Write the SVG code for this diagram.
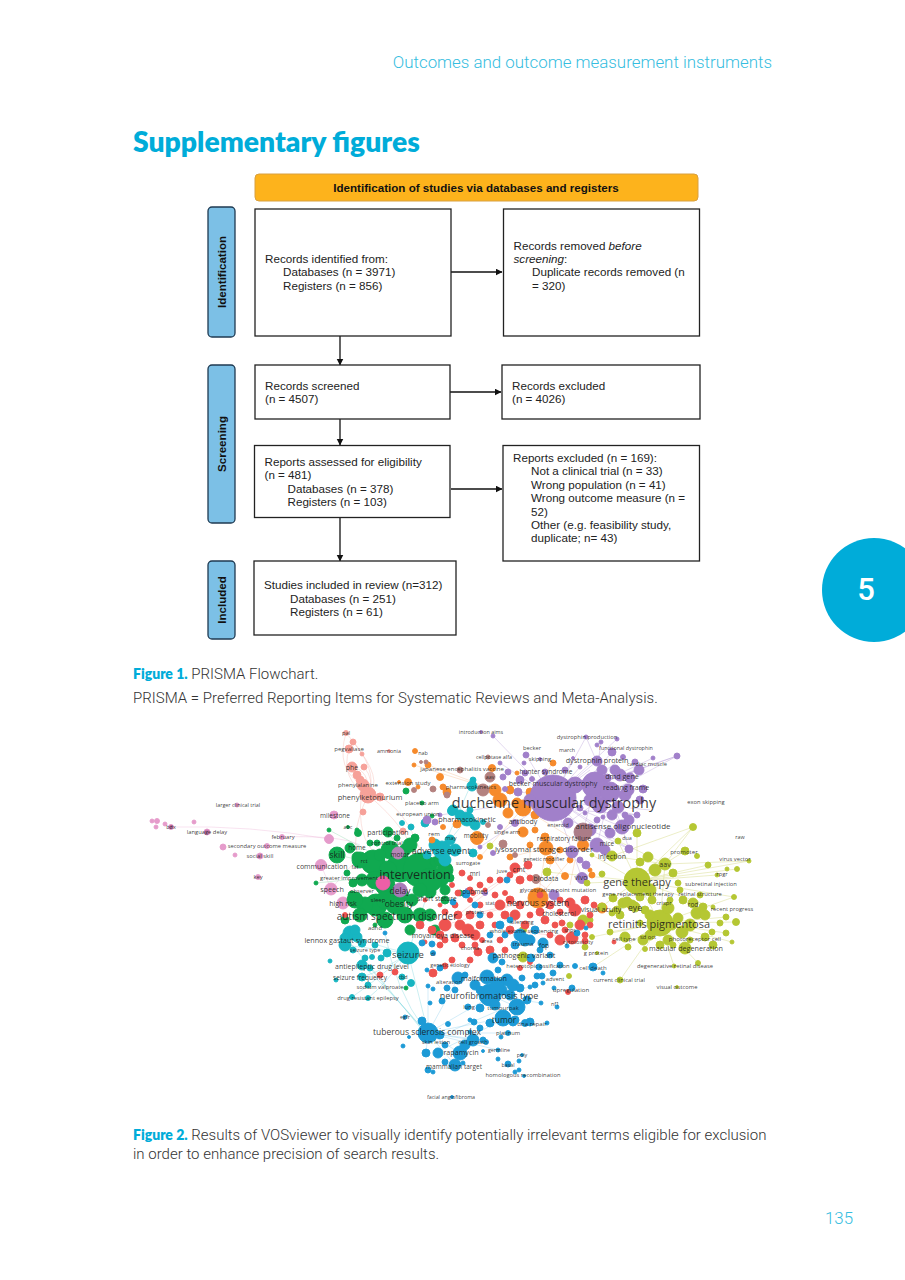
<svg xmlns="http://www.w3.org/2000/svg" width="905" height="1280" viewBox="0 0 905 1280">
<style>
text{font-family:"Liberation Sans",Arial,sans-serif}
.bx{fill:#fff;stroke:#222;stroke-width:1.3}
.sd{fill:#7cc0e6;stroke:#1f3a52;stroke-width:1.3}
.t{font-size:11.65px;fill:#222}
.b{font-size:11.6px;font-weight:700;fill:#111}
.cap{font-family:Roboto,sans-serif;font-weight:300;font-size:15px;fill:#333}
.fb{font-family:Lato,sans-serif;font-weight:800;font-size:14px;fill:#00acd9}
.hd{font-family:Roboto,sans-serif;font-weight:300;fill:#35bde0}
.cn{stroke:#111;stroke-width:1.3;fill:none;marker-end:url(#ah)}
.l text{font-family:"Open Sans",sans-serif;text-anchor:middle;fill:#151515;fill-opacity:.85;dominant-baseline:central}
.a{font-size:5.4px}.c{font-size:5.8px}.d{font-size:6.1px}.e{font-size:6.5px}.f{font-size:7px}.g{font-size:7.2px}.h{font-size:8.5px}.i{font-size:9.5px}
.ed{fill:none;stroke-width:.6;stroke-opacity:.55}
.cl{stroke-width:1;stroke-opacity:.9}
</style>
<defs><marker id="ah" markerWidth="8" markerHeight="8" refX="6.5" refY="3.5" orient="auto" markerUnits="userSpaceOnUse"><path d="M0 0L7 3.5L0 7Z" fill="#111"/></marker></defs>

<rect width="905" height="1280" fill="#fff"/>
<text class="hd" x="772" y="68" text-anchor="end" font-size="16.9">Outcomes and outcome measurement instruments</text>
<text x="133" y="152" font-size="28.3" font-weight="800" fill="#00acd9" style="font-family:Lato,'Open Sans',sans-serif">Supplementary figures</text>

<g id="connectors">
<path class="cn" d="M451 272H502"/>
<path class="cn" d="M340 336V365"/>
<path class="cn" d="M450 392H501"/>
<path class="cn" d="M340 419V445"/>
<path class="cn" d="M451 489H502"/>
<path class="cn" d="M340 518V561"/>
</g>
<g id="node-header"><rect x="255" y="174" width="443" height="27" rx="4" fill="#fdb31c" stroke="#d8a040" stroke-width="1"/><text class="b" x="476" y="192" text-anchor="middle">Identification of studies via databases and registers</text></g>
<g id="side-identification"><rect class="sd" x="208" y="207" width="27" height="130" rx="4"/><text class="b" transform="translate(226 272) rotate(-90)" text-anchor="middle">Identification</text></g>
<g id="side-screening"><rect class="sd" x="208" y="365" width="27" height="158" rx="4"/><text class="b" transform="translate(226 444) rotate(-90)" text-anchor="middle">Screening</text></g>
<g id="side-included"><rect class="sd" x="208" y="561" width="27" height="78" rx="4"/><text class="b" transform="translate(226 600) rotate(-90)" text-anchor="middle">Included</text></g>
<g id="node-identified"><rect class="bx" x="255" y="209" width="196" height="127"/><text class="t" x="265" y="263">Records identified from:</text><text class="t" x="283" y="276">Databases (n = 3971)</text><text class="t" x="283" y="290">Registers (n = 856)</text></g>
<g id="node-removed"><rect class="bx" x="503.500" y="209" width="196" height="127"/><text class="t" x="513.500" y="250">Records removed <tspan font-style="italic">before</tspan></text><text class="t" x="513.500" y="263"><tspan font-style="italic">screening</tspan>:</text><text class="t" x="532" y="276">Duplicate records removed (n</text><text class="t" x="532" y="290">= 320)</text></g>
<g id="node-screened"><rect class="bx" x="255" y="365" width="195" height="54"/><text class="t" x="265" y="390">Records screened</text><text class="t" x="265" y="403">(n = 4507)</text></g>
<g id="node-excluded"><rect class="bx" x="502" y="365" width="198" height="54"/><text class="t" x="512" y="390">Records excluded</text><text class="t" x="512" y="403">(n = 4026)</text></g>
<g id="node-assessed"><rect class="bx" x="254.500" y="445.500" width="195.500" height="72"/><text class="t" x="264.500" y="466">Reports assessed for eligibility</text><text class="t" x="264.500" y="479">(n = 481)</text><text class="t" x="287.500" y="493">Databases (n = 378)</text><text class="t" x="287.500" y="506">Registers (n = 103)</text></g>
<g id="node-reports-excluded"><rect class="bx" x="503" y="445.500" width="196.500" height="115.500"/><text class="t" x="513" y="462">Reports excluded (n = 169):</text><text class="t" x="531" y="475">Not a clinical trial (n = 33)</text><text class="t" x="531" y="489">Wrong population (n = 41)</text><text class="t" x="531" y="502">Wrong outcome measure (n =</text><text class="t" x="531" y="516">52)</text><text class="t" x="531" y="529">Other (e.g. feasibility study,</text><text class="t" x="531" y="542">duplicate; n= 43)</text></g>
<g id="node-included"><rect class="bx" x="254" y="561" width="202" height="74"/><text class="t" x="264" y="589">Studies included in review (n=312)</text><text class="t" x="290" y="603">Databases (n = 251)</text><text class="t" x="290" y="616">Registers (n = 61)</text></g>

<g id="badge"><circle cx="874" cy="590" r="52" fill="#00acd9"/><text x="866" y="600" text-anchor="middle" font-size="31" font-weight="500" fill="#fff" style="font-family:Roboto,sans-serif">5</text></g>

<text x="133" y="679"><tspan class="fb">Figure 1.</tspan><tspan class="cap"> PRISMA Flowchart.</tspan></text>
<text class="cap" x="133" y="703">PRISMA = Preferred Reporting Items for Systematic Reviews and Meta-Analysis.</text>

<g id="network-edges">
<path class="ed" stroke="#a98bd0" d="M553 798L677 756M553 798L639 770M553 798L617 739M553 798L586 737M553 798L526 755M553 798L597 761M553 798L629 849M553 798L597 845M553 798L622 827M553 798L637 815M553 798L568 823M553 798L610 833M553 798L505 789M553 798L493 736M595 785L677 756M595 785L601 742M595 785L653 758M595 785L639 770M595 785L622 827M595 785L583 832M610 792L629 820M610 792L629 849M610 792L597 845M610 792L677 756M610 792L586 737M610 792L568 823M553 798L580 767M553 798L573 758M553 798L500 763M553 798L440 815M553 798L582 878M553 798L480 847M600 805L650 810M575 810L637 815M560 815L629 849M590 770L553 798M570 800L612 752M580 790L623 757"/>
<path class="ed" stroke="#c4cc52" d="M637 881L693 827M637 881L637 833M637 881L618 841M637 881L592 855M637 881L749 861M637 881L737 869M637 881L708 865M637 881L717 875M637 881L713 907M637 881L685 851M637 881L734 897M637 881L587 883M637 881L547 872M637 881L665 864M660 923L734 897M660 923L736 922M660 923L726 933M660 923L732 942M660 923L698 963M660 923L674 966M660 923L610 932M660 923L645 949M660 923L726 917M660 923L592 937M665 864L693 827M665 864L749 861M665 864L618 841M637 881L583 920M665 864L612 856M660 923L620 980M660 923L593 967M665 864L660 923M637 881L660 923M612 856L693 827"/>
<path class="ed" stroke="#7cc9ea" d="M428 1033L490 997M428 1033L422 1021M428 1033L473 1040M428 1033L460 1053M428 1033L455 1065M428 1033L426 1053M428 1033L483 1040M428 1033L503 1018M428 1033L508 1033M428 1033L498 1050M428 1033L458 978M428 1033L428 986M490 995L517 1007M490 995L503 1018M490 995L530 987M490 995L541 1003M430 1040L500 1010M435 1053L503 1020M460 1053L480 1028"/>
<path class="ed" stroke="#62cdd6" stroke-width=".7" d="M408 953Q420 1000 428 1033M385 933Q395 990 425 1030M362 965Q400 1000 425 1032M352 945Q390 990 422 1030M370 968Q405 1010 424 1030M350 933Q370 945 408 953M345 945Q380 950 408 953M362 977Q385 970 408 953M352 997Q370 985 408 953M368 998Q385 985 408 953M442 850L467 819M442 850L473 780M442 850L408 953"/>
<path class="ed" stroke="#f4a8a0" stroke-width=".7" d="M346 733Q380 770 368 795M353 742Q385 780 368 795M349 749Q340 780 368 795M352 767Q370 770 368 795M364 767Q375 780 368 795M368 795Q350 830 358 858M368 795Q410 830 415 860M363 785Q355 830 372 850M380 797Q405 810 420 850M346 733Q335 770 363 785"/>
<path class="ed" stroke="#e9a9d2" stroke-width=".7" d="M329 839Q250 825 171 827M282 837Q340 835 360 845M343 903L383 883M321 865L331 889M331 889L358 858"/>
<path class="ed" stroke="#f7b27a" d="M523 808L553 763M523 808L480 857M546 848L510 857M523 808L583 845M495 790L428 765M495 790L414 765M546 848L538 898M546 848L565 876M583 845L538 898M560 850L545 875M575 860L570 885M530 840L530 870"/>
<path class="ed" stroke="#f29a98" d="M519 868L470 900M519 868L575 910M519 868L445 925M538 898L470 915M538 898L445 925M538 898L585 941M572 938L510 930"/>
<path class="ed" stroke="#7fce9c" d="M415 873L338 855M415 873L316 883M415 873L388 832M400 868L329 830M415 873L442 900"/>
</g>

<g id="cluster-salmon" class="cl" fill="#f6a199" stroke="#f6a199">
<circle cx="346" cy="733" r="2.500"/><circle cx="353" cy="742" r="3"/><circle cx="349" cy="749" r="4"/><circle cx="362" cy="754" r="2"/><circle cx="352" cy="767" r="5"/><circle cx="364" cy="767" r="3"/><circle cx="357" cy="775" r="4"/><circle cx="360" cy="780" r="4"/><circle cx="363" cy="785" r="6"/><circle cx="368" cy="795" r="8"/><circle cx="380" cy="797" r="4"/><circle cx="363" cy="812" r="3"/><circle cx="403" cy="831" r="3"/><circle cx="389" cy="751" r="1.500"/>
</g>
<g id="cluster-pink" class="cl" fill="#e59bcb" stroke="#e59bcb">
<circle cx="152" cy="821" r="2"/><circle cx="157" cy="821" r="2.500"/><circle cx="156" cy="827" r="2"/><circle cx="165" cy="824" r="2"/><circle cx="171" cy="827" r="2.500" fill="#b9689f"/><circle cx="194" cy="822" r="2"/><circle cx="207" cy="832" r="3" fill="#c97ab0"/><circle cx="237" cy="805" r="2"/><circle cx="223" cy="847" r="3"/><circle cx="235" cy="855" r="2"/><circle cx="260" cy="856" r="3" fill="#d488bd"/><circle cx="267" cy="846" r="2.500"/><circle cx="282" cy="837" r="2.500"/><circle cx="258" cy="877" r="2.500"/><circle cx="329" cy="839" r="4.500"/><circle cx="334" cy="815" r="4"/><circle cx="321" cy="865" r="5.500"/><circle cx="331" cy="889" r="6"/><circle cx="343" cy="903" r="6"/>
</g>
<g id="cluster-green" class="cl" fill="#10a950" stroke="#10a950">
<circle cx="337" cy="855" r="8"/><circle cx="350" cy="848" r="5"/><circle cx="357" cy="830" r="2"/><circle cx="358" cy="833" r="3.500"/><circle cx="388" cy="832" r="5"/><circle cx="415" cy="838" r="4"/><circle cx="357" cy="857" r="5"/><circle cx="347" cy="873" r="3"/><circle cx="353" cy="883" r="4"/><circle cx="316" cy="883" r="2"/><circle cx="406" cy="791" r="3"/><circle cx="422" cy="803" r="2"/><circle cx="329" cy="830" r="2"/><circle cx="348" cy="827" r="1.500"/><circle cx="432" cy="816" r="2"/><circle cx="377" cy="843" r="3"/><circle cx="370" cy="843" r="3"/><circle cx="397" cy="838" r="3"/><circle cx="373" cy="862" r="12"/><circle cx="390" cy="850" r="9"/><circle cx="400" cy="868" r="14"/><circle cx="385" cy="885" r="10"/><circle cx="362" cy="880" r="6"/><circle cx="400" cy="895" r="8"/><circle cx="376" cy="905" r="11"/><circle cx="395" cy="905" r="9"/><circle cx="412" cy="900" r="6"/><circle cx="365" cy="905" r="8"/><circle cx="352" cy="895" r="4"/><circle cx="420" cy="915" r="7"/><circle cx="405" cy="915" r="8"/><circle cx="385" cy="920" r="8"/><circle cx="360" cy="915" r="7"/><circle cx="345" cy="920" r="4"/><circle cx="430" cy="892" r="6"/><circle cx="445" cy="900" r="4"/><circle cx="460" cy="893" r="3"/><circle cx="430" cy="915" r="6"/><circle cx="435" cy="930" r="5"/><circle cx="410" cy="930" r="5"/><circle cx="375" cy="925" r="2"/><circle cx="440" cy="878" r="9"/><circle cx="420" cy="870" r="17"/><circle cx="435" cy="862" r="5"/><circle cx="388" cy="870" r="9"/><circle cx="450" cy="878" r="4"/><circle cx="405" cy="850" r="6"/><circle cx="380" cy="855" r="6"/><circle cx="406" cy="988" r="2"/><circle cx="430" cy="880" r="12"/><circle cx="445" cy="870" r="8"/><circle cx="360" cy="860" r="8"/><circle cx="410" cy="845" r="7"/><circle cx="375" cy="880" r="9"/><circle cx="420" cy="890" r="7"/><circle cx="355" cy="900" r="8"/><circle cx="385" cy="900" r="9"/><circle cx="445" cy="890" r="5"/><circle cx="440" cy="860" r="6"/>
</g>
<g id="cluster-teal" class="cl" fill="#17b5c1" stroke="#17b5c1">
<circle cx="442" cy="850" r="9"/><circle cx="467" cy="819" r="7"/><circle cx="453" cy="810" r="5"/><circle cx="427" cy="855" r="4"/><circle cx="473" cy="853" r="4"/><circle cx="411" cy="827" r="3"/><circle cx="402" cy="823" r="2.500"/><circle cx="425" cy="823" r="4"/><circle cx="483" cy="822" r="2.500"/><circle cx="473" cy="780" r="3"/><circle cx="472" cy="786" r="5"/><circle cx="452" cy="811" r="4.500"/><circle cx="455" cy="850" r="6"/><circle cx="408" cy="953" r="11"/><circle cx="350" cy="933" r="7"/><circle cx="345" cy="945" r="6"/><circle cx="357" cy="937" r="5"/><circle cx="362" cy="943" r="4"/><circle cx="387" cy="953" r="4"/><circle cx="362" cy="965" r="5"/><circle cx="370" cy="968" r="3"/><circle cx="362" cy="977" r="4"/><circle cx="368" cy="985" r="3"/><circle cx="381" cy="958" r="3"/><circle cx="372" cy="957" r="2.500"/><circle cx="411" cy="983" r="3.500"/><circle cx="402" cy="977" r="3"/><circle cx="352" cy="997" r="2.500"/><circle cx="368" cy="998" r="2.500"/><circle cx="330" cy="961" r="2"/><circle cx="336" cy="980" r="2"/><circle cx="353" cy="950" r="3"/><circle cx="435" cy="845" r="6"/><circle cx="450" cy="840" r="5"/><circle cx="445" cy="860" r="6"/><circle cx="460" cy="815" r="5"/><circle cx="470" cy="810" r="3"/><circle cx="475" cy="825" r="5"/><circle cx="345" cy="938" r="5"/><circle cx="355" cy="930" r="5"/><circle cx="375" cy="945" r="3"/><circle cx="365" cy="958" r="3"/>
</g>
<g id="cluster-orange" class="cl" fill="#f68a2b" stroke="#f68a2b">
<circle cx="495" cy="790" r="6"/><circle cx="508" cy="813" r="5"/><circle cx="523" cy="808" r="8"/><circle cx="523" cy="832" r="5"/><circle cx="517" cy="803" r="5"/><circle cx="546" cy="848" r="7"/><circle cx="583" cy="845" r="5.500"/><circle cx="545" cy="837" r="4"/><circle cx="457" cy="824" r="4"/><circle cx="477" cy="838" r="6.500"/><circle cx="492" cy="768" r="3.500"/><circle cx="553" cy="763" r="3"/><circle cx="517" cy="773" r="2"/><circle cx="597" cy="777" r="3"/><circle cx="538" cy="898" r="10"/><circle cx="565" cy="876" r="3.500"/><circle cx="592" cy="875" r="3"/><circle cx="602" cy="908" r="5"/><circle cx="443" cy="827" r="2.500"/><circle cx="415" cy="751" r="2.500"/><circle cx="428" cy="765" r="3"/><circle cx="414" cy="765" r="2"/><circle cx="408" cy="782" r="3.500"/><circle cx="440" cy="777" r="3.500"/><circle cx="443" cy="787" r="3"/><circle cx="447" cy="792" r="4"/><circle cx="432" cy="840" r="3"/><circle cx="399" cy="782" r="1.500"/><circle cx="418" cy="787" r="2"/><circle cx="510" cy="857" r="3"/><circle cx="480" cy="857" r="2.500"/><circle cx="530" cy="792" r="4"/><circle cx="535" cy="815" r="4"/><circle cx="500" cy="800" r="7"/><circle cx="510" cy="790" r="4"/><circle cx="535" cy="830" r="3"/><circle cx="560" cy="850" r="3"/><circle cx="570" cy="860" r="3"/><circle cx="550" cy="860" r="4"/><circle cx="530" cy="845" r="3"/><circle cx="590" cy="870" r="2"/>
</g>
<g id="cluster-brown" class="cl" fill="#b4827f" stroke="#b4827f">
<circle cx="483" cy="790" r="6"/><circle cx="460" cy="770" r="3"/><circle cx="490" cy="777" r="5"/><circle cx="536" cy="879" r="4.500"/><circle cx="503" cy="844" r="4"/><circle cx="515" cy="855" r="2.500"/><circle cx="421" cy="762" r="1.500"/><circle cx="426" cy="762" r="2"/><circle cx="414" cy="790" r="2.500"/><circle cx="433" cy="789" r="3"/><circle cx="447" cy="795" r="3"/><circle cx="488" cy="757" r="2"/><circle cx="488" cy="825" r="2.500"/>
</g>
<g id="cluster-purple" class="cl" fill="#a180ca" stroke="#a180ca">
<circle cx="553" cy="798" r="23"/><circle cx="595" cy="785" r="13"/><circle cx="610" cy="792" r="10"/><circle cx="618" cy="807" r="6"/><circle cx="572" cy="852" r="6"/><circle cx="597" cy="845" r="7"/><circle cx="610" cy="833" r="5"/><circle cx="622" cy="827" r="7"/><circle cx="629" cy="820" r="5"/><circle cx="629" cy="849" r="4"/><circle cx="637" cy="815" r="3"/><circle cx="639" cy="770" r="5"/><circle cx="635" cy="762" r="3"/><circle cx="623" cy="757" r="2.500"/><circle cx="612" cy="752" r="4"/><circle cx="617" cy="739" r="2"/><circle cx="601" cy="742" r="2"/><circle cx="597" cy="745" r="2"/><circle cx="586" cy="737" r="2"/><circle cx="493" cy="736" r="2"/><circle cx="481" cy="732" r="1.500"/><circle cx="526" cy="755" r="3"/><circle cx="524" cy="763" r="2"/><circle cx="540" cy="759" r="1.500"/><circle cx="597" cy="761" r="5"/><circle cx="580" cy="767" r="2"/><circle cx="573" cy="758" r="1.500"/><circle cx="653" cy="758" r="2"/><circle cx="677" cy="756" r="3"/><circle cx="508" cy="772" r="3"/><circle cx="503" cy="777" r="3"/><circle cx="500" cy="763" r="2"/><circle cx="518" cy="792" r="4"/><circle cx="505" cy="789" r="2.500"/><circle cx="525" cy="773" r="3"/><circle cx="532" cy="779" r="2.500"/><circle cx="587" cy="783" r="5"/><circle cx="643" cy="789" r="4"/><circle cx="630" cy="778" r="5"/><circle cx="607" cy="778" r="4"/><circle cx="597" cy="820" r="3"/><circle cx="625" cy="815" r="3"/><circle cx="568" cy="823" r="5"/><circle cx="603" cy="817" r="2"/><circle cx="580" cy="808" r="3"/><circle cx="585" cy="813" r="2"/><circle cx="515" cy="823" r="3.500"/><circle cx="500" cy="827" r="2.500"/><circle cx="586" cy="865" r="4"/><circle cx="582" cy="878" r="5.500"/><circle cx="554" cy="895" r="5"/><circle cx="493" cy="853" r="2.500"/><circle cx="480" cy="847" r="2"/><circle cx="427" cy="820" r="4"/><circle cx="435" cy="822" r="3"/><circle cx="440" cy="815" r="2"/><circle cx="400" cy="890" r="7" fill="#a97ab8" stroke="#a97ab8"/><circle cx="398" cy="853" r="6" fill="#b686b8" stroke="#b686b8"/><circle cx="468" cy="891" r="3"/><circle cx="485" cy="893" r="2.500"/><circle cx="620" cy="775" r="6"/><circle cx="602" cy="770" r="5"/><circle cx="590" cy="800" r="6"/><circle cx="600" cy="805" r="8"/><circle cx="575" cy="785" r="8"/><circle cx="625" cy="795" r="6"/><circle cx="640" cy="800" r="4"/><circle cx="612" cy="815" r="5"/><circle cx="590" cy="830" r="6"/><circle cx="605" cy="850" r="5"/><circle cx="580" cy="860" r="3"/><circle cx="530" cy="800" r="6"/><circle cx="520" cy="780" r="4"/><circle cx="545" cy="772" r="3"/><circle cx="565" cy="770" r="3"/><circle cx="628" cy="790" r="6"/><circle cx="615" cy="770" r="5"/><circle cx="583" cy="832" r="9" fill="#ab7c87" stroke="#ab7c87"/>
</g>
<g id="cluster-lime" class="cl" fill="#b5c733" stroke="#b5c733">
<circle cx="637" cy="881" r="13"/><circle cx="660" cy="923" r="13"/><circle cx="665" cy="864" r="6"/><circle cx="673" cy="873" r="4"/><circle cx="648" cy="857" r="5"/><circle cx="640" cy="862" r="4"/><circle cx="685" cy="851" r="4"/><circle cx="697" cy="856" r="2.500"/><circle cx="708" cy="865" r="3"/><circle cx="693" cy="827" r="3.500"/><circle cx="637" cy="833" r="4"/><circle cx="618" cy="841" r="3"/><circle cx="612" cy="856" r="5"/><circle cx="602" cy="874" r="3"/><circle cx="592" cy="855" r="2"/><circle cx="749" cy="861" r="2"/><circle cx="737" cy="869" r="2.500"/><circle cx="727" cy="869" r="2"/><circle cx="678" cy="883" r="3"/><circle cx="680" cy="890" r="3"/><circle cx="717" cy="875" r="2"/><circle cx="713" cy="907" r="2"/><circle cx="640" cy="897" r="4"/><circle cx="623" cy="903" r="5"/><circle cx="632" cy="905" r="5"/><circle cx="613" cy="898" r="4"/><circle cx="587" cy="883" r="3"/><circle cx="547" cy="872" r="4"/><circle cx="490" cy="846" r="3"/><circle cx="734" cy="897" r="2.500"/><circle cx="726" cy="917" r="3"/><circle cx="736" cy="922" r="3.500"/><circle cx="726" cy="933" r="3"/><circle cx="732" cy="942" r="2"/><circle cx="712" cy="932" r="3"/><circle cx="720" cy="923" r="3"/><circle cx="713" cy="945" r="4"/><circle cx="705" cy="937" r="4"/><circle cx="685" cy="948" r="6"/><circle cx="673" cy="945" r="3"/><circle cx="660" cy="945" r="4"/><circle cx="645" cy="949" r="2.500"/><circle cx="643" cy="940" r="5"/><circle cx="628" cy="947" r="3"/><circle cx="625" cy="937" r="5"/><circle cx="610" cy="932" r="3"/><circle cx="612" cy="913" r="3"/><circle cx="617" cy="910" r="4"/><circle cx="627" cy="902" r="5"/><circle cx="635" cy="907" r="5"/><circle cx="645" cy="910" r="4"/><circle cx="652" cy="900" r="4"/><circle cx="670" cy="900" r="3"/><circle cx="683" cy="900" r="4"/><circle cx="693" cy="903" r="5"/><circle cx="697" cy="913" r="6"/><circle cx="705" cy="915" r="5"/><circle cx="703" cy="907" r="4"/><circle cx="682" cy="932" r="6"/><circle cx="678" cy="918" r="5"/><circle cx="640" cy="923" r="3"/><circle cx="592" cy="937" r="2.500"/><circle cx="583" cy="920" r="5"/><circle cx="590" cy="920" r="3"/><circle cx="602" cy="907" r="4"/><circle cx="569" cy="976" r="2.500"/><circle cx="698" cy="963" r="2.500"/><circle cx="674" cy="966" r="2"/><circle cx="620" cy="980" r="3"/><circle cx="677" cy="987" r="1.500"/><circle cx="597" cy="953" r="1.500"/><circle cx="585" cy="947" r="3"/><circle cx="523" cy="957" r="5"/><circle cx="523" cy="930" r="3.500"/><circle cx="570" cy="925" r="3"/><circle cx="650" cy="915" r="5"/><circle cx="668" cy="908" r="6"/><circle cx="650" cy="935" r="5"/><circle cx="668" cy="940" r="5"/><circle cx="690" cy="925" r="6"/><circle cx="672" cy="925" r="5"/><circle cx="655" cy="870" r="6"/><circle cx="650" cy="890" r="6"/><circle cx="620" cy="915" r="4"/><circle cx="700" cy="895" r="3"/><circle cx="690" cy="940" r="3"/>
</g>
<g id="cluster-red" class="cl" fill="#ee5350" stroke="#ee5350">
<circle cx="515" cy="868" r="5"/><circle cx="528" cy="865" r="4"/><circle cx="510" cy="875" r="3"/><circle cx="500" cy="880" r="3"/><circle cx="520" cy="880" r="4"/><circle cx="530" cy="878" r="3"/><circle cx="505" cy="893" r="2.500"/><circle cx="490" cy="880" r="3"/><circle cx="480" cy="885" r="3"/><circle cx="470" cy="878" r="2.500"/><circle cx="462" cy="873" r="3"/><circle cx="452" cy="885" r="2.500"/><circle cx="458" cy="893" r="3"/><circle cx="470" cy="900" r="2.500"/><circle cx="455" cy="905" r="3"/><circle cx="445" cy="912" r="3"/><circle cx="480" cy="905" r="3"/><circle cx="490" cy="915" r="3"/><circle cx="470" cy="915" r="4"/><circle cx="460" cy="925" r="5"/><circle cx="445" cy="925" r="6"/><circle cx="432" cy="930" r="4"/><circle cx="420" cy="925" r="4"/><circle cx="455" cy="938" r="4"/><circle cx="468" cy="930" r="6"/><circle cx="480" cy="925" r="4"/><circle cx="495" cy="925" r="3"/><circle cx="500" cy="905" r="5"/><circle cx="510" cy="900" r="4"/><circle cx="520" cy="905" r="4"/><circle cx="530" cy="915" r="3"/><circle cx="540" cy="912" r="4"/><circle cx="550" cy="905" r="4"/><circle cx="560" cy="900" r="3"/><circle cx="570" cy="903" r="5"/><circle cx="575" cy="910" r="6"/><circle cx="585" cy="900" r="4"/><circle cx="590" cy="915" r="3"/><circle cx="590" cy="925" r="3"/><circle cx="555" cy="925" r="3"/><circle cx="545" cy="920" r="4"/><circle cx="550" cy="935" r="3"/><circle cx="560" cy="940" r="5"/><circle cx="572" cy="938" r="6"/><circle cx="565" cy="930" r="3"/><circle cx="510" cy="930" r="4"/><circle cx="500" cy="940" r="3"/><circle cx="490" cy="950" r="4"/><circle cx="478" cy="952" r="4"/><circle cx="470" cy="960" r="3"/><circle cx="452" cy="960" r="3"/><circle cx="445" cy="966" r="3"/><circle cx="433" cy="973" r="4"/><circle cx="395" cy="972" r="3"/><circle cx="380" cy="975" r="3"/><circle cx="505" cy="950" r="3"/><circle cx="515" cy="945" r="3"/><circle cx="530" cy="962" r="2.500"/><circle cx="520" cy="968" r="2.500"/><circle cx="585" cy="941" r="3"/><circle cx="594" cy="905" r="3"/><circle cx="473" cy="893" r="2.500"/><circle cx="440" cy="905" r="2"/><circle cx="462" cy="945" r="3"/><circle cx="482" cy="940" r="2.500"/><circle cx="440" cy="945" r="3"/><circle cx="425" cy="942" r="2"/><circle cx="568" cy="992" r="2.500"/><circle cx="614" cy="942" r="2"/><circle cx="562" cy="923" r="3"/><circle cx="345" cy="915" r="2.500"/><circle cx="383" cy="883" r="7" fill="#ee5fa7" stroke="#ee5fa7"/><circle cx="425" cy="900" r="2"/><circle cx="470" cy="890" r="3"/><circle cx="495" cy="895" r="3"/><circle cx="515" cy="915" r="5"/><circle cx="525" cy="925" r="4"/><circle cx="475" cy="935" r="5"/><circle cx="445" cy="940" r="3"/><circle cx="505" cy="915" r="4"/><circle cx="580" cy="925" r="5"/><circle cx="585" cy="935" r="3"/><circle cx="540" cy="895" r="3"/><circle cx="485" cy="890" r="2"/><circle cx="475" cy="945" r="3"/><circle cx="458" cy="915" r="4"/><circle cx="440" cy="935" r="4"/><circle cx="560" cy="912" r="3"/>
</g>
<g id="cluster-blue" class="cl" fill="#1d9ad6" stroke="#1d9ad6">
<circle cx="507" cy="880" r="3"/><circle cx="466" cy="894" r="4"/><circle cx="475" cy="905" r="3"/><circle cx="453" cy="902" r="3"/><circle cx="500" cy="925" r="4"/><circle cx="520" cy="935" r="6"/><circle cx="535" cy="930" r="4"/><circle cx="530" cy="940" r="5"/><circle cx="515" cy="945" r="4"/><circle cx="493" cy="958" r="5"/><circle cx="502" cy="962" r="3"/><circle cx="531" cy="958" r="4"/><circle cx="543" cy="943" r="5"/><circle cx="525" cy="940" r="6"/><circle cx="539" cy="967" r="3"/><circle cx="560" cy="965" r="3"/><circle cx="575" cy="966" r="2.500"/><circle cx="593" cy="967" r="4"/><circle cx="603" cy="973" r="2"/><circle cx="567" cy="946" r="2"/><circle cx="586" cy="928" r="2"/><circle cx="577" cy="933" r="3"/><circle cx="490" cy="995" r="11"/><circle cx="487" cy="977" r="7"/><circle cx="507" cy="980" r="6"/><circle cx="513" cy="985" r="6"/><circle cx="520" cy="988" r="4"/><circle cx="502" cy="990" r="5"/><circle cx="517" cy="1007" r="8"/><circle cx="503" cy="1018" r="8"/><circle cx="513" cy="1022" r="4"/><circle cx="530" cy="1022" r="4"/><circle cx="525" cy="1023" r="3.500"/><circle cx="489" cy="1023" r="3"/><circle cx="480" cy="1028" r="3"/><circle cx="501" cy="1037" r="2"/><circle cx="486" cy="1042" r="2.500"/><circle cx="483" cy="1051" r="1.500"/><circle cx="498" cy="1050" r="2"/><circle cx="498" cy="1059" r="2"/><circle cx="508" cy="1064" r="3"/><circle cx="519" cy="1061" r="2"/><circle cx="515" cy="1072" r="2"/><circle cx="519" cy="1070" r="2"/><circle cx="524" cy="1076" r="1.500"/><circle cx="522" cy="1055" r="1.500"/><circle cx="547" cy="1023" r="2"/><circle cx="541" cy="1003" r="2"/><circle cx="530" cy="987" r="2"/><circle cx="522" cy="978" r="3"/><circle cx="498" cy="970" r="3"/><circle cx="542" cy="976" r="3"/><circle cx="537" cy="976" r="3"/><circle cx="553" cy="973" r="3"/><circle cx="554" cy="988" r="2"/><circle cx="543" cy="983" r="2"/><circle cx="557" cy="1007" r="2"/><circle cx="572" cy="988" r="3"/><circle cx="428" cy="1033" r="10"/><circle cx="422" cy="1021" r="4"/><circle cx="409" cy="1037" r="1.500"/><circle cx="403" cy="1046" r="2"/><circle cx="426" cy="1053" r="4"/><circle cx="438" cy="1053" r="5"/><circle cx="460" cy="1053" r="7"/><circle cx="455" cy="1065" r="6"/><circle cx="428" cy="1070" r="3"/><circle cx="433" cy="1072" r="2"/><circle cx="473" cy="1040" r="6"/><circle cx="483" cy="1040" r="3"/><circle cx="448" cy="1024" r="2.500"/><circle cx="474" cy="1022" r="3"/><circle cx="490" cy="1023" r="4"/><circle cx="508" cy="1033" r="2.500"/><circle cx="452" cy="1097" r="1.500"/><circle cx="405" cy="1017" r="2"/><circle cx="430" cy="1003" r="2"/><circle cx="442" cy="1001" r="3"/><circle cx="433" cy="989" r="2"/><circle cx="428" cy="986" r="2"/><circle cx="458" cy="978" r="6"/><circle cx="447" cy="988" r="3"/><circle cx="468" cy="1007" r="3"/><circle cx="427" cy="970" r="2"/><circle cx="432" cy="944" r="3"/><circle cx="422" cy="943" r="3"/><circle cx="385" cy="933" r="2"/><circle cx="433" cy="953" r="2.500"/><circle cx="463" cy="1063" r="2"/><circle cx="475" cy="985" r="5"/><circle cx="465" cy="975" r="3"/><circle cx="480" cy="1008" r="4"/><circle cx="470" cy="1020" r="2"/><circle cx="497" cy="985" r="7"/><circle cx="480" cy="990" r="4"/><circle cx="510" cy="995" r="5"/><circle cx="527" cy="1000" r="4"/><circle cx="515" cy="1020" r="4"/><circle cx="540" cy="950" r="3"/><circle cx="550" cy="955" r="3"/><circle cx="505" cy="935" r="3"/><circle cx="490" cy="935" r="3"/><circle cx="480" cy="915" r="3"/><circle cx="510" cy="920" r="3"/><circle cx="440" cy="968" r="3"/><circle cx="455" cy="990" r="3"/><circle cx="465" cy="1045" r="5"/><circle cx="445" cy="1045" r="3"/><circle cx="440" cy="1035" r="4"/><circle cx="445" cy="1062" r="3"/><circle cx="470" cy="1032" r="2"/><circle cx="495" cy="1005" r="5"/><circle cx="535" cy="985" r="3"/>
</g>

<g id="network-labels" class="l">
<text class="c" x="346" y="733">pal</text><text class="d" x="349" y="748">pegvaliase</text><text class="a" x="389" y="751">ammonia</text><text class="a" x="423" y="753">nab</text><text class="a" x="481" y="732">introduction aims</text><text class="c" x="587" y="737">dystrophin production</text><text class="c" x="532" y="748">becker</text><text class="a" x="567" y="750">march</text><text class="a" x="626" y="748">functional dystrophin</text><text class="a" x="494" y="757">cellpotase alfa</text><text class="c" x="540" y="759">skipping</text><text class="g" x="597" y="760">dystrophin protein</text><text class="c" x="647" y="764">cardiac muscle</text><text class="d" x="462" y="768">japanese encephalitis vaccine</text><text class="f" x="352" y="767">phe</text><text class="e" x="546" y="771">hunter syndrome</text><text class="g" x="622" y="776">dmd gene</text><text class="a" x="490" y="777">aav</text><text class="d" x="358" y="784">phenylalanine</text><text class="d" x="408" y="782">extension study</text><text class="d" x="471" y="786">pharmacokinetics</text><text class="f" x="553" y="783">becker muscular dystrophy</text><text class="f" x="626" y="787">reading frame</text><text x="370" y="797" style="font-size:7.500px">phenylketonurium</text>
<text x="554" y="802" style="font-size:14.400px">duchenne muscular dystrophy</text>
<text class="c" x="706" y="802">exon skipping</text><text class="c" x="422" y="803">placebo arm</text><text class="a" x="238" y="805">larger clinical trial</text><text class="c" x="418" y="814">european union</text><text class="e" x="335" y="815">milestone</text><text x="467" y="819" style="font-size:7.400px">pharmacokinetic</text><text class="f" x="523" y="821">antibody</text><text class="a" x="558" y="825">enteroid</text><text x="623" y="825" style="font-size:8px">antisense oligonucleotide</text><text class="a" x="348" y="827">abc</text><text class="a" x="171" y="827">bdx</text><text class="c" x="207" y="832">language delay</text><text class="f" x="388" y="832">participation</text><text class="d" x="434" y="833">rem</text><text class="e" x="476" y="835">mobility</text><text class="a" x="507" y="832">single arm</text><text class="e" x="564" y="838">respiratory failure</text><text class="c" x="283" y="837">february</text><text class="a" x="740" y="837">raw</text><text class="a" x="627" y="838">dua</text><text class="c" x="387" y="843">control trial</text><text class="c" x="451" y="838">may</text><text class="c" x="267" y="846">secondary outcome measure</text><text class="e" x="357" y="847">home</text><text class="e" x="400" y="854">motor</text><text x="441" y="850" style="font-size:9px">adverse event</text><text x="544" y="849" style="font-size:7.800px">lysosomal storage disorder</text><text class="e" x="607" y="843">mice</text><text class="h" x="337" y="854">skill</text><text class="c" x="260" y="856">social skill</text><text class="f" x="612" y="856">injection</text><text class="d" x="684" y="851">promoter</text><text class="a" x="544" y="859">genetic modifier</text><text class="c" x="735" y="859">virus vector</text><text class="f" x="322" y="866">communication</text><text class="c" x="364" y="861">rct</text><text class="a" x="468" y="863">surrogate</text><text class="e" x="475" y="873">mri</text><text class="f" x="519" y="869">cmt</text><text class="f" x="665" y="864">aav</text><text class="c" x="355" y="867">fat</text><text class="a" x="502" y="871">juve</text><text class="f" x="546" y="878">biodata</text><text class="f" x="581" y="877">vivo</text><text class="c" x="258" y="877">key</text><text class="c" x="349" y="878">greater improvement</text>
<text x="415" y="874" style="font-size:12.600px">intervention</text>
<text x="637" y="881" style="font-size:11px">gene therapy</text>
<text class="c" x="722" y="874">rpgr</text><text class="c" x="711" y="884">subretinal injection</text><text class="g" x="332" y="889">speech</text><text class="h" x="400" y="890">delay</text><text class="c" x="362" y="891">observer</text><text class="e" x="475" y="891">pubmed</text><text class="c" x="537" y="890">glycosylation</text><text class="c" x="576" y="890">point mutation</text><text class="e" x="437" y="898">short stature</text><text class="d" x="378" y="899">sleep</text><text class="h" x="399" y="903">obesity</text><text class="f" x="343" y="903">high risk</text><text class="c" x="638" y="894">gene replacement therapy</text><text class="c" x="700" y="894">retinal structure</text><text class="c" x="664" y="903">crispr</text><text class="e" x="693" y="904">rod</text><text class="h" x="635" y="907">eye</text><text class="g" x="601" y="909">visual acuity</text><text class="h" x="538" y="902">nervous system</text><text class="a" x="490" y="903">stat</text><text class="a" x="475" y="912">protein</text><text class="e" x="559" y="913">cholesterol</text><text class="c" x="732" y="909">recent progress</text>
<text x="397" y="916" style="font-size:10px">autism spectrum disorder</text>
<text class="c" x="522" y="922">silencing</text><text class="c" x="375" y="928">adhd</text>
<text x="659" y="923" style="font-size:11px">retinitis pigmentosa</text>
<text class="c" x="578" y="942">cytotoxicity</text><text class="c" x="524" y="931">whole exome sequencing</text><text class="a" x="570" y="930">snps</text><text class="d" x="624" y="938">cell type</text><text class="c" x="648" y="937">sd oct</text><text class="d" x="695" y="938">photoreceptor cell</text><text class="g" x="347" y="940">lennox gastaut syndrome</text><text class="f" x="443" y="935">moyamoya disease</text><text class="a" x="487" y="941">area</text><text class="d" x="523" y="943">trauma</text><text class="e" x="544" y="945">fop</text><text class="a" x="365" y="950">seizure type</text><text class="c" x="470" y="948">chorea</text><text class="g" x="686" y="948">macular degeneration</text><text class="i" x="408" y="954">seizure</text><text class="c" x="433" y="954">di</text><text class="g" x="524" y="955">pathogenic variant</text><text class="c" x="596" y="953">g protein</text><text class="f" x="372" y="966">antiepileptic drug level</text><text class="a" x="450" y="965">genetic etiology</text><text class="c" x="538" y="966">heterotopic ossification</text><text class="d" x="593" y="967">cell death</text><text class="c" x="675" y="966">degenerative retinal disease</text><text class="e" x="360" y="977">seizure frequency</text><text class="g" x="484" y="978">malformation</text><text class="c" x="449" y="982">alteration</text><text class="c" x="555" y="979">advent</text><text class="c" x="619" y="980">current clinical trial</text><text class="c" x="380" y="987">sodium valproate</text><text class="a" x="403" y="977">cbd</text><text class="c" x="677" y="987">visual outcome</text><text class="d" x="571" y="989">upregulation</text>
<text x="489" y="995" style="font-size:9px">neurofibromatosis type</text>
<text class="c" x="368" y="998">drug resistant epilepsy</text><text class="a" x="555" y="1004">nf1</text><text class="c" x="469" y="1007">lung</text><text class="d" x="498" y="1007">tumour</text><text class="c" x="514" y="1008">pak</text><text class="a" x="405" y="1017">egfr</text><text class="h" x="504" y="1019">tumor</text><text class="d" x="532" y="1023">dna repair</text><text class="h" x="427" y="1031">tuberous sclerosis complex</text><text class="c" x="508" y="1033">platinum</text><text class="c" x="436" y="1042">skin lesion</text><text class="c" x="473" y="1042">cell growth</text><text class="a" x="499" y="1050">germline</text><text class="g" x="461" y="1052">rapamycin</text><text class="a" x="522" y="1055">poly</text><text class="e" x="454" y="1066">mammalian target</text><text class="a" x="508" y="1065">basal</text><text class="c" x="523" y="1075">homologous recombination</text><text class="a" x="451" y="1097">facial angiofibroma</text>
</g>

<text x="133" y="1140"><tspan class="fb">Figure 2.</tspan><tspan class="cap"> Results of VOSviewer to visually identify potentially irrelevant terms eligible for exclusion</tspan></text>
<text class="cap" x="133" y="1159">in order to enhance precision of search results.</text>
<text class="hd" x="853" y="1224" text-anchor="end" font-size="16.900">135</text>
</svg>
